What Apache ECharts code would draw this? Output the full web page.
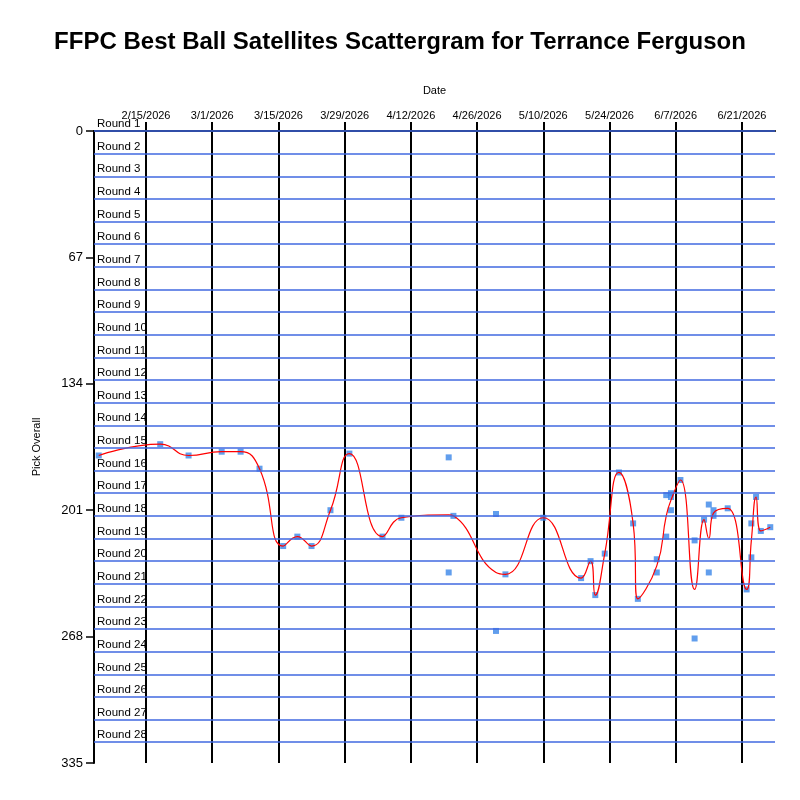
<!DOCTYPE html>
<html>
<head>
<meta charset="utf-8">
<script src="https://cdn.jsdelivr.net/npm/echarts@6/dist/echarts.min.js"></script>
<style>
  html, body { margin: 0; padding: 0; background: #fff; }
  #chart { width: 800px; height: 800px; }
</style>
</head>
<body>
<div id="chart"></div>
<script>
// picks (date of draft, overall pick)
const pickDates = [
  '2026-02-05', '2026-02-18', '2026-02-24', '2026-03-03', '2026-03-07', '2026-03-11',
  '2026-03-16', '2026-03-19', '2026-03-22', '2026-03-26', '2026-03-30', '2026-04-06',
  '2026-04-10', '2026-04-20', '2026-04-20', '2026-04-21', '2026-04-30', '2026-04-30',
  '2026-05-02', '2026-05-10', '2026-05-18', '2026-05-20', '2026-05-21', '2026-05-23',
  '2026-05-26', '2026-05-29', '2026-05-30', '2026-06-03', '2026-06-03', '2026-06-05',
  '2026-06-05', '2026-06-06', '2026-06-06', '2026-06-06', '2026-06-08', '2026-06-11',
  '2026-06-11', '2026-06-13', '2026-06-14', '2026-06-14', '2026-06-15', '2026-06-15',
  '2026-06-18', '2026-06-22', '2026-06-23', '2026-06-23', '2026-06-24', '2026-06-25',
  '2026-06-27'
]
const pickOverall = [
  172, 166, 172, 170, 170, 179,
  220, 215, 220, 201, 171, 215,
  205, 173, 234, 204, 203, 265,
  235, 205, 237, 228, 246, 224,
  181, 208, 248, 227, 234, 215,
  193, 192, 194, 201, 185, 217,
  269, 206, 198, 234, 201, 204,
  200, 243, 226, 208, 194, 212,
  210
]

// axis layout values
const dateTicks = [
  '2026-02-15', '2026-03-01', '2026-03-15', '2026-03-29', '2026-04-12',
  '2026-04-26', '2026-05-10', '2026-05-24', '2026-06-07', '2026-06-21'
]
const dateStart = '2026-02-04'
const dateEnd = '2026-06-28'

const roundNames = [
  'Round 1', 'Round 2', 'Round 3', 'Round 4', 'Round 5', 'Round 6', 'Round 7',
  'Round 8', 'Round 9', 'Round 10', 'Round 11', 'Round 12', 'Round 13', 'Round 14',
  'Round 15', 'Round 16', 'Round 17', 'Round 18', 'Round 19', 'Round 20', 'Round 21',
  'Round 22', 'Round 23', 'Round 24', 'Round 25', 'Round 26', 'Round 27', 'Round 28'
]
const roundStarts = [
  0, 12, 24, 36, 48, 60, 72, 84, 96, 108, 120, 132, 144, 156,
  168, 180, 192, 204, 216, 228, 240, 252, 264, 276, 288, 300, 312, 324
]

const FONT = 'Liberation Sans'

function toTime(s) {
  const p = s.split('-')
  return Date.UTC(+p[0], +p[1] - 1, +p[2])
}

function fmtDate(v) {
  const d = new Date(v)
  return (d.getUTCMonth() + 1) + '/' + d.getUTCDate() + '/' + d.getUTCFullYear()
}

// red trend line goes through the average pick of each day
const dayMap = new Map()
pickDates.forEach((d, i) => {
  const t = toTime(d)
  const e = dayMap.get(t) || [0, 0]
  e[0] += pickOverall[i]
  e[1] += 1
  dayMap.set(t, e)
})
const avgLine = Array.from(dayMap.entries())
  .sort((a, b) => a[0] - b[0])
  .map(([t, [sum, n]]) => [t, sum / n])

const tickTimes = dateTicks.map(toTime)

const chart = echarts.init(document.getElementById('chart'), null, { renderer: 'canvas' })

chart.setOption({
  animation: false,
  backgroundColor: '#fff',
  textStyle: { fontFamily: FONT },
  title: {
    text: 'FFPC Best Ball Satellites Scattergram for Terrance Ferguson',
    left: 'center',
    top: 25,
    textStyle: { fontFamily: FONT, fontSize: 24, fontWeight: 'bold', color: '#000' }
  },
  grid: { left: 94, right: 25, top: 131, bottom: 37 },
  xAxis: {
    type: 'value',
    position: 'top',
    min: toTime(dateStart),
    max: toTime(dateEnd),
    name: 'Date',
    nameLocation: 'middle',
    nameGap: 35,
    nameTextStyle: { fontFamily: FONT, fontSize: 11, color: '#000' },
    axisLine: { lineStyle: { color: '#000', width: 2 } },
    axisTick: { customValues: tickTimes, length: 9, lineStyle: { color: '#000', width: 2 } },
    axisLabel: {
      customValues: tickTimes,
      formatter: fmtDate,
      fontFamily: FONT,
      fontSize: 11,
      color: '#000',
      margin: 10
    },
    splitLine: { show: true, lineStyle: { color: '#000', width: 2 } }
  },
  yAxis: {
    type: 'value',
    inverse: true,
    min: 0,
    max: 335,
    interval: 67,
    name: 'Pick Overall',
    nameLocation: 'middle',
    nameGap: 52,
    nameTextStyle: { fontFamily: FONT, fontSize: 11, color: '#000' },
    axisLine: { show: true, lineStyle: { color: '#000', width: 2 } },
    axisTick: { show: true, length: 8, lineStyle: { color: '#000', width: 1.5 } },
    axisLabel: { fontFamily: FONT, fontSize: 13, color: '#000', margin: 11 },
    splitLine: { show: false }
  },
  series: [
    {
      name: 'Picks',
      type: 'scatter',
      data: pickDates.map((d, i) => [toTime(d), pickOverall[i]]),
      symbol: 'rect',
      symbolSize: 6,
      itemStyle: { color: '#3a86e8' },
      z: 2,
      markLine: {
        silent: true,
        symbol: 'none',
        animation: false,
        lineStyle: { color: '#4169e1', width: 1.5, type: 'solid' },
        label: {
          position: 'insideStartTop',
          formatter: '{b}',
          fontFamily: FONT,
          fontSize: 11.5,
          color: '#000',
          distance: [3, 1]
        },
        data: roundStarts.map((v, i) => ({ name: roundNames[i], yAxis: v }))
      }
    },
    {
      name: 'Average',
      type: 'line',
      data: avgLine,
      smooth: 0.5,
      showSymbol: false,
      lineStyle: { color: '#ff0000', width: 1.2 },
      z: 3
    }
  ]
})
</script>
</body>
</html>
